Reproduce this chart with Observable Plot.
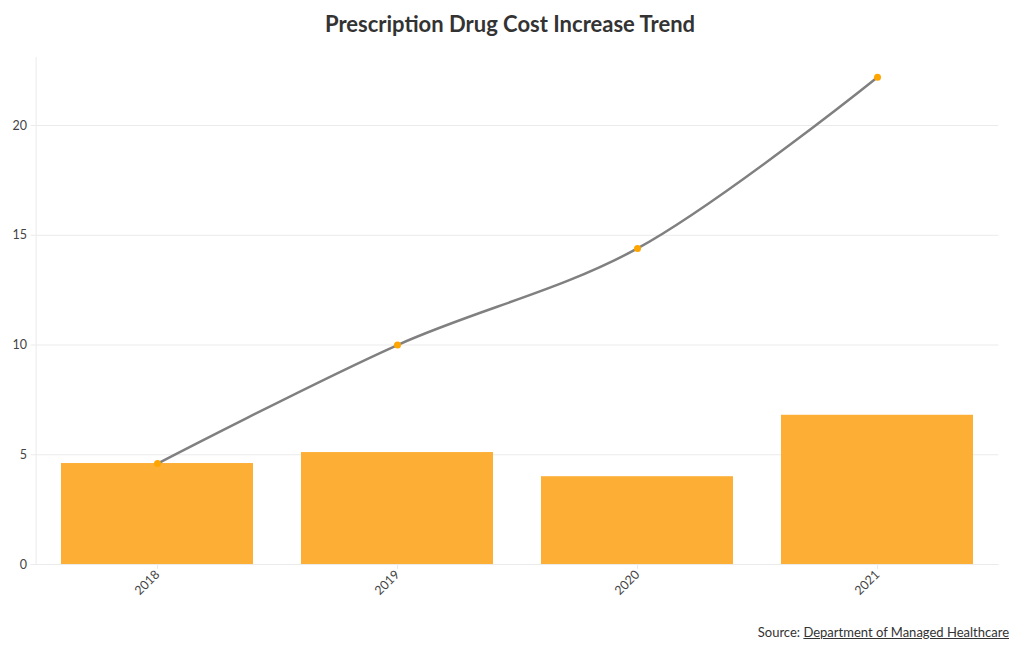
<!DOCTYPE html>
<html>
<head>
<meta charset="utf-8">
<script src="https://cdn.jsdelivr.net/npm/d3@7"></script>
<script src="https://cdn.jsdelivr.net/npm/@observablehq/plot@0.6"></script>
<style>
  html, body { margin: 0; padding: 0; background: #fff; }
  body { width: 1020px; height: 650px; overflow: hidden; font-family: "Source Sans Pro", Lato, "Open Sans", sans-serif; }
  #title { height: 45px; line-height: 48px; text-align: center; font-size: 22px; font-weight: bold; color: #333; }
  #caption { height: 25px; line-height: 24px; text-align: right; padding-right: 11px; font-size: 13px; color: #333; }
  #caption a { color: #333; text-decoration: underline; }
  svg { display: block; }
</style>
</head>
<body>
<div id="title">Prescription Drug Cost Increase Trend</div>
<div id="chart"></div>
<div id="caption">Source: <a href="#">Department of Managed Healthcare</a></div>
<script>
const years = ["2018", "2019", "2020", "2021"];
const annualIncrease = [4.6, 5.1, 4.0, 6.8];
const cumulativeIncrease = [4.6, 10.0, 14.4, 22.2];
const yTicks = [0, 5, 10, 15, 20];

const data = years.map((year, i) => ({year, annual: annualIncrease[i], cumulative: cumulativeIncrease[i]}));

const chart = Plot.plot({
  width: 1020,
  height: 575,
  marginLeft: 35.6,
  marginRight: 21.6,
  marginTop: 12,
  marginBottom: 56,
  style: {fontFamily: "'Source Sans Pro', Lato, 'Open Sans', sans-serif", fontSize: "12px", color: "#444", background: "#fff"},
  x: {domain: years, paddingInner: 0.2, paddingOuter: 0.1, label: null},
  y: {domain: [0, 23.1], label: null},
  marks: [
    Plot.gridY(yTicks, {stroke: "#ebebeb", strokeOpacity: 1}),
    Plot.frame({anchor: "left", stroke: "#ebebeb", strokeOpacity: 1}),
    Plot.barY(data, {x: "year", y: "annual", fill: "#fdae34"}),
    Plot.ruleY([0], {stroke: "#ebebeb", strokeOpacity: 1}),
    Plot.line(data, {x: "year", y: "cumulative", stroke: "#808080", strokeWidth: 2.5, curve: "catmull-rom"}),
    Plot.dot(data, {x: "year", y: "cumulative", fill: "#ffa500", r: 3.5}),
    Plot.axisY(yTicks, {tickSize: 5, tickPadding: 4, stroke: "#ebebeb", fill: "#444", fontSize: 12.5}),
    Plot.axisX({tickSize: 5, tickRotate: -45, tickPadding: 3, stroke: "#ebebeb", fill: "#444", fontSize: 12.5})
  ]
});
document.getElementById("chart").appendChild(chart);
</script>
</body>
</html>
